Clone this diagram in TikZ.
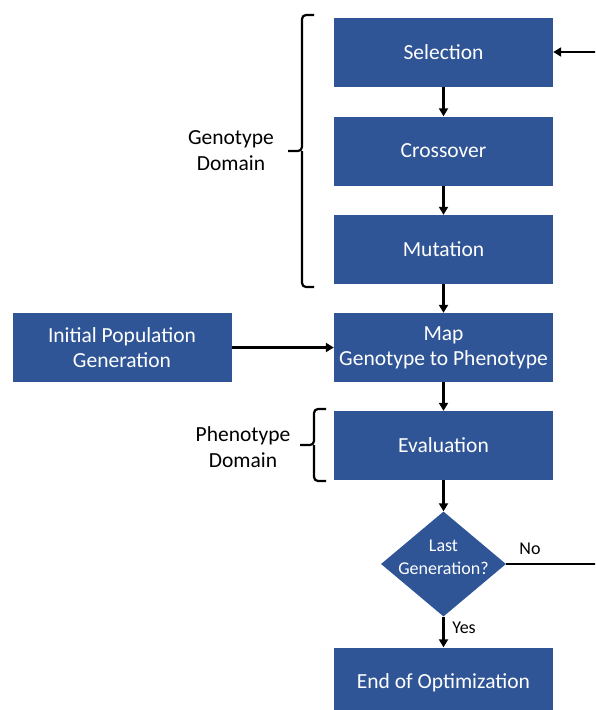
\documentclass[tikz,border=0pt]{standalone}
\usepackage{fontspec}
\setmainfont{Carlito}
\usetikzlibrary{shapes.geometric,arrows.meta,positioning}
\definecolor{boxblue}{HTML}{2F5597}
\tikzset{
  x=1pt, y=-1pt,
  bigtext/.style={font=\fontsize{21.5}{26}\selectfont},
  smalltext/.style={font=\fontsize{18}{23}\selectfont},
  flowbox/.style={fill=boxblue, text=white, minimum width=219pt, minimum height=69pt,
    inner sep=0pt, align=center, bigtext},
  decision/.style={diamond, fill=boxblue, minimum width=125pt, minimum height=105pt,
    inner sep=0pt},
  flow/.style={draw=black, line width=2.2pt, -{Triangle[length=8pt,width=9pt]}},
  plainline/.style={draw=black, line width=2.2pt},
  bracket/.style={draw=black, line width=2.2pt, rounded corners=4pt},
  note/.style={align=center, bigtext},
}
\begin{document}
\begin{tikzpicture}
\useasboundingbox (0,0) rectangle (595,710);
\clip (0,0) rectangle (595,710);

% main column of process steps
\node[flowbox] (sel) at (443.5,52) {Selection};
\node[flowbox] (cross) at (443.5,151) {Crossover};
\node[flowbox] (mut) at (443.5,249.5) {Mutation};
\node[flowbox] (map) at (443.5,347.5) {Map\\[-1pt]Genotype to Phenotype};
\node[flowbox] (init) at (122,347.5) {Initial Population\\[-1pt]Generation};
\node[flowbox] (eval) at (443.5,445.5) {Evaluation};
\node[decision] (last) at (443.5,564) {};
\node[smalltext, text=white, align=center] (lasttxt) at (443.5,557) {Last\\Generation?};
\node[flowbox, minimum height=76pt] (done) at (443.5,685.5) {};
\node[bigtext, text=white] (donetxt) at (443.5,683) {End of Optimization};

% connectors
\draw[flow] (sel) -- (cross);
\draw[flow] (cross) -- (mut);
\draw[flow] (mut) -- (map);
\draw[flow] (init) -- (map);
\draw[flow] (map) -- (eval);
\draw[flow] (eval) -- (last);
\draw[flow] (last) -- (done);
\node[smalltext] (yes) at (464,628) {Yes};

% loop back from the decision to selection, running off the right edge
\coordinate (loopbot) at (605,564);
\coordinate (looptop) at (605,52);
\draw[plainline] (last.east) -- (loopbot) -- (looptop);
\draw[flow] (looptop) -- (sel.east);
\node[smalltext] (no) at (530,549) {No};

% domain brackets
\coordinate (gtop) at (314,15);
\coordinate (gbot) at (314,287);
\draw[bracket] (gtop) -- (302,15) -- (302,151) -- (288,151);
\draw[bracket] (gbot) -- (302,287) -- (302,151);
\node[note] (geno) at (231,151) {Genotype\\Domain};

\coordinate (ptop) at (326,409);
\coordinate (pbot) at (326,481);
\draw[bracket] (ptop) -- (314,409) -- (314,445) -- (300,445);
\draw[bracket] (pbot) -- (314,481) -- (314,445);
\node[note] (pheno) at (243,447) {Phenotype\\Domain};
\end{tikzpicture}
\end{document}
